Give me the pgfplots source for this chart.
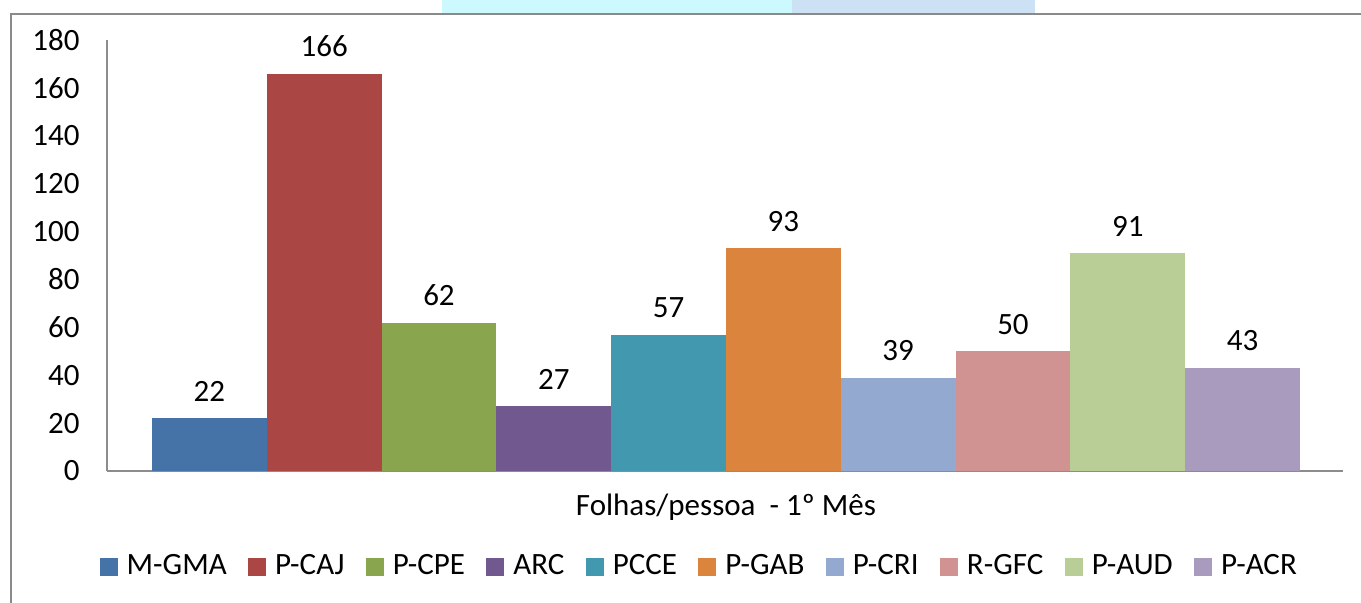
\documentclass[border=0pt]{standalone}
\usepackage{fontspec}
\setmainfont{Carlito}
\usepackage{pgfplots}
\pgfplotsset{compat=1.18}
\definecolor{cA}{HTML}{4572A7}
\definecolor{cB}{HTML}{AA4643}
\definecolor{cC}{HTML}{89A54E}
\definecolor{cD}{HTML}{71588F}
\definecolor{cE}{HTML}{4198AF}
\definecolor{cF}{HTML}{DB843D}
\definecolor{cG}{HTML}{93A9CF}
\definecolor{cH}{HTML}{D19392}
\definecolor{cI}{HTML}{B9CD96}
\definecolor{cJ}{HTML}{A99BBD}
\definecolor{axisgray}{HTML}{8C8C8C}
\definecolor{framegray}{HTML}{8A8A8A}
\definecolor{topcyan}{HTML}{CCF9FE}
\definecolor{topblue}{HTML}{CDE1F5}
\begin{document}
\fontsize{15.5}{18}\selectfont
\begin{tikzpicture}[x=1pt,y=1pt]
\fill[topcyan] (221,294) rectangle (396,301);
\fill[topblue] (396,294) rectangle (517.5,301);
\draw[framegray, line width=1pt] (5.5,-10) -- (5.5,294) -- (690,294);
\begin{axis}[
  at={(53.5pt,65.5pt)}, anchor=south west,
  scale only axis, width=618pt, height=215.5pt,
  xmin=-0.892, xmax=9.875, ymin=0, ymax=180,
  ytick={0,20,...,180}, xtick=\empty,
  axis x line*=bottom, axis y line*=left,
  axis line style={-, draw=axisgray, line width=0.6pt},
  major tick length=0pt,
  /pgf/number format/assume math mode=true,
  yticklabel style={anchor=east, inner sep=0pt, xshift=-13.5pt},
  ybar, bar width=1,
  every axis plot post/.append style={bar shift=0},
  nodes near coords,
  every node near coord/.append style={anchor=center, yshift=13.5pt, text=black},
  xlabel={Folhas/pessoa \ - 1º Mês},
  xlabel style={at={(axis description cs:0.5008,-0.084)}, anchor=center},
  legend columns=10,
  legend style={at={(0.48,-0.222)}, anchor=center, draw=none, fill=none,
    inner sep=0pt, nodes={inner sep=2pt},
    /tikz/every even column/.append style={column sep=8.7pt}},
  legend image code/.code={\fill[#1,draw=none] (0pt,-4.5pt) rectangle (9pt,4.5pt); \path (0pt,0pt) (11.5pt,0pt);},
]
\addplot[fill=cA, draw=none] coordinates {(0,22)};
\addplot[fill=cB, draw=none] coordinates {(1,166)};
\addplot[fill=cC, draw=none] coordinates {(2,62)};
\addplot[fill=cD, draw=none] coordinates {(3,27)};
\addplot[fill=cE, draw=none] coordinates {(4,57)};
\addplot[fill=cF, draw=none] coordinates {(5,93)};
\addplot[fill=cG, draw=none] coordinates {(6,39)};
\addplot[fill=cH, draw=none] coordinates {(7,50)};
\addplot[fill=cI, draw=none] coordinates {(8,91)};
\addplot[fill=cJ, draw=none] coordinates {(9,43)};
\legend{M-GMA,P-CAJ,P-CPE,ARC,PCCE,P-GAB,P-CRI,R-GFC,P-AUD,P-ACR}
\end{axis}
\pgfresetboundingbox
\useasboundingbox (0,0) rectangle (680.5,301);
\end{tikzpicture}
\end{document}
